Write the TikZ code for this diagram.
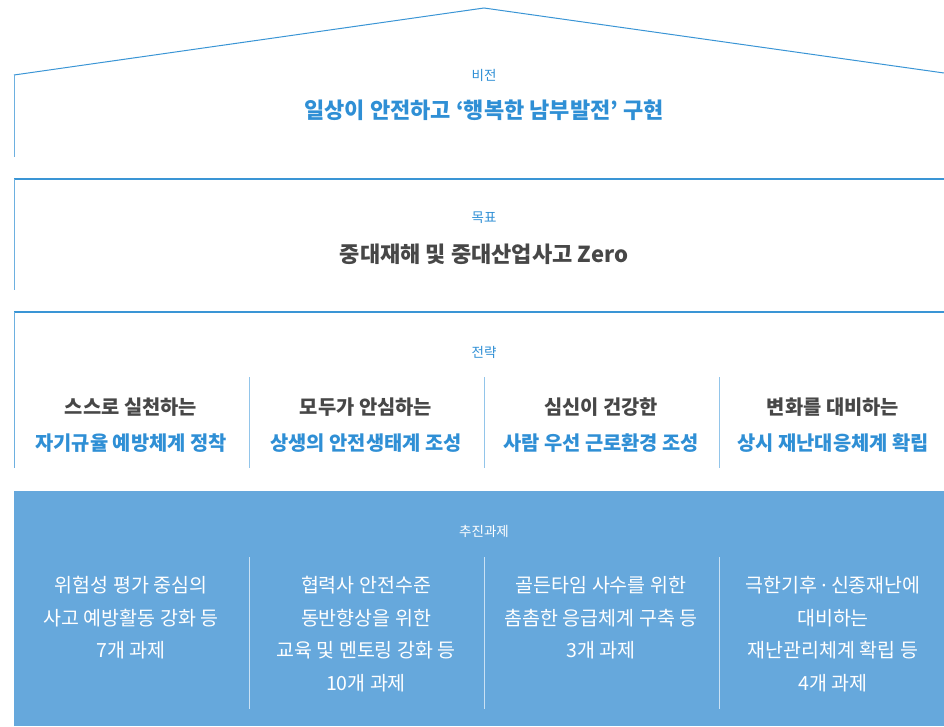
\documentclass[tikz,border=0pt]{standalone}
\usepackage{fontspec}
\setmainfont{Noto Sans CJK KR}
\newfontfamily\latinfont{Noto Sans}
\usepackage{tikz}

\definecolor{lineblue}{HTML}{3A95D5}
\definecolor{sideblue}{HTML}{6DB0E0}
\definecolor{textblue}{HTML}{2F8FD5}
\definecolor{taskfill}{HTML}{66A8DC}
\definecolor{darktext}{HTML}{474747}
\definecolor{divblue}{HTML}{92C5EA}
\definecolor{divwhite}{HTML}{C9E1F4}

\tikzset{
  smalltag/.style={font=\fontsize{13.5}{16}\selectfont, text=textblue, inner sep=0pt},
  headline/.style={font=\bfseries\fontsize{22}{26}\selectfont, inner sep=0pt},
  stratcol/.style={font=\bfseries\fontsize{19.8}{36}\selectfont, text=darktext, align=center, inner sep=0pt},
  taskcol/.style={font=\fontsize{19.5}{32.5}\selectfont, text=white, align=center, inner sep=0pt},
  roofline/.style={draw=lineblue, line width=1pt},
  topline/.style={draw=lineblue, line width=1.5pt},
  sideline/.style={draw=sideblue, line width=1pt},
  stratdiv/.style={draw=divblue, line width=1pt},
  taskdiv/.style={draw=divwhite, line width=1pt}
}

\begin{document}
\begin{tikzpicture}[x=1pt, y=-1pt]
	\useasboundingbox (0,0) rectangle (944,726);

	% roof and frames
	\draw[roofline] (14,75) -- (484,8) -- (944,73);
	\draw[sideline] (14,75) -- (14,157);
	\draw[topline] (14,179) -- (944,179);
	\draw[sideline] (14,179) -- (14,290);
	\draw[topline] (14,312) -- (944,312);
	\draw[sideline] (14,312) -- (14,468);
	\fill[taskfill] (14,491) rectangle (944,726);

	% column dividers
	\foreach \x in {249,484,719} {
		\draw[stratdiv] (\x,377) -- (\x,468);
		\draw[taskdiv] (\x,557) -- (\x,709);
	}

	% vision
	\node[smalltag] (vtag) at (484,75) {비전};
	\node[headline, text=textblue] (vision) at (484,110) {일상이 안전하고 ‘행복한 남부발전’ 구현};

	% goal
	\node[smalltag] (gtag) at (484,218) {목표};
	\node[headline, text=darktext] (goal) at (484,254) {중대재해 및 중대산업사고 Zero};

	% strategy
	\node[smalltag] (stag) at (484,352) {전략};
	\node[stratcol] (s1) at (131,425) {스스로 실천하는\\ \textcolor{textblue}{자기규율 예방체계 정착}};
	\node[stratcol] (s2) at (366,425) {모두가 안심하는\\ \textcolor{textblue}{상생의 안전생태계 조성}};
	\node[stratcol] (s3) at (601,425) {심신이 건강한\\ \textcolor{textblue}{사람 우선 근로환경 조성}};
	\node[stratcol] (s4) at (833,425) {변화를 대비하는\\ \textcolor{textblue}{상시 재난대응체계 확립}};

	% tasks
	\node[smalltag, text=white] (ttag) at (484,531) {추진과제};
	\node[taskcol] (t1) at (131,618) {위험성 평가 중심의\\ 사고 예방활동 강화 등\\ 7개 과제};
	\node[taskcol] (t2) at (366,634) {협력사 안전수준\\ 동반향상을 위한\\ 교육 및 멘토링 강화 등\\ 10개 과제};
	\node[taskcol] (t3) at (601,618) {골든타임 사수를 위한\\ 촘촘한 응급체계 구축 등\\ 3개 과제};
	\node[taskcol] (t4) at (833,634) {극한기후 {\latinfont ·} 신종재난에\\ 대비하는\\ 재난관리체계 확립 등\\ 4개 과제};
\end{tikzpicture}
\end{document}
